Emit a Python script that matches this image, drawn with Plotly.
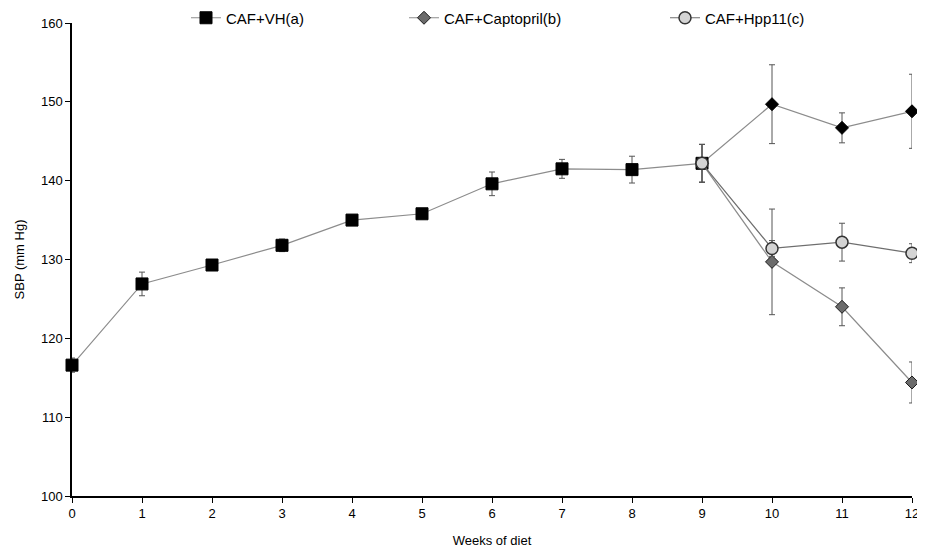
import plotly.graph_objects as go

weeks = list(range(13))
vh_weeks = weeks
vh_sbp = [116.6, 126.9, 129.3, 131.8, 135.0, 135.8, 139.6, 141.5, 141.4, 142.2, 149.7, 146.7, 148.8]
vh_err = [0.9, 1.5, 0.5, 0.8, 0.4, 0.4, 1.5, 1.2, 1.7, 2.4, 5.0, 1.9, 4.7]
vh_split = 10  # weeks 0-9 shown as squares, 10-12 as diamonds

cap_weeks = [9, 10, 11, 12]
cap_sbp = [142.2, 129.7, 124.0, 114.4]
cap_err = [2.4, 6.7, 2.4, 2.6]

hpp_weeks = [9, 10, 11, 12]
hpp_sbp = [142.2, 131.4, 132.2, 130.8]
hpp_err = [2.4, 1.0, 2.4, 1.2]

font = "Liberation Sans, Arial, sans-serif"
line_col = "#8c8c8c"
err_col = "#555555"

W, H = 917, 540  # page adds an 8px body margin

fig = go.Figure()

# VH line continuing after week 9
fig.add_trace(go.Scatter(
    x=vh_weeks[vh_split - 1:], y=vh_sbp[vh_split - 1:], mode="lines",
    line=dict(color=line_col, width=1.2), showlegend=False, hoverinfo="skip",
    cliponaxis=False,
))
fig.add_trace(go.Scatter(
    x=vh_weeks[vh_split:], y=vh_sbp[vh_split:], mode="markers",
    marker=dict(symbol="diamond", size=10, color="#000000",
                line=dict(color="#000000", width=1)),
    error_y=dict(type="data", array=vh_err[vh_split:], color=err_col, thickness=1, width=3),
    showlegend=False, cliponaxis=False,
))
fig.add_trace(go.Scatter(
    x=vh_weeks[:vh_split], y=vh_sbp[:vh_split], name="CAF+VH(a)", mode="lines+markers",
    line=dict(color=line_col, width=1.2),
    marker=dict(symbol="square", size=12, color="#000000",
                line=dict(color="#000000", width=1)),
    error_y=dict(type="data", array=vh_err[:vh_split], color=err_col, thickness=1, width=3),
    cliponaxis=False, legend="legend",
))
fig.add_trace(go.Scatter(
    x=cap_weeks, y=cap_sbp, name="CAF+Captopril(b)", mode="lines+markers",
    line=dict(color=line_col, width=1.2),
    marker=dict(symbol="diamond", size=10, color="#6b6b6b",
                line=dict(color="#1a1a1a", width=1)),
    error_y=dict(type="data", array=cap_err, color=err_col, thickness=1, width=3),
    cliponaxis=False, legend="legend2",
))
fig.add_trace(go.Scatter(
    x=hpp_weeks, y=hpp_sbp, name="CAF+Hpp11(c)", mode="lines+markers",
    line=dict(color="#6e6e6e", width=1.2),
    marker=dict(symbol="circle", size=12, color="#d4d4d4",
                line=dict(color="#333333", width=1.5)),
    error_y=dict(type="data", array=hpp_err, color=err_col, thickness=1, width=3),
    cliponaxis=False, legend="legend3",
))

leg_common = dict(orientation="h", yref="container", xref="container", y=1 - 10 / H,
                  yanchor="middle", xanchor="left", bgcolor="rgba(0,0,0,0)",
                  font=dict(family=font, size=15, color="#000000"))

fig.update_layout(
    width=W, height=H,
    paper_bgcolor="white", plot_bgcolor="white",
    margin=dict(l=64, r=13, t=15, b=52, autoexpand=False),
    font=dict(family=font, size=13, color="#000000"),
    legend=dict(x=178 / W, **leg_common),
    legend2=dict(x=396 / W, **leg_common),
    legend3=dict(x=657 / W, **leg_common),
    xaxis=dict(range=[0, 12], tickmode="array", tickvals=weeks,
               ticks="outside", ticklen=5, tickcolor="#000000",
               showline=True, linecolor="#000000", linewidth=1.5,
               showgrid=False, zeroline=False,
               tickfont=dict(family=font, size=13),
               title=dict(text="Weeks of diet", font=dict(family=font, size=13), standoff=17)),
    yaxis=dict(range=[100, 160], tickvals=[100, 110, 120, 130, 140, 150, 160],
               ticks="outside", ticklen=5, tickcolor="#000000",
               showline=True, linecolor="#000000", linewidth=1.5,
               showgrid=False, zeroline=False,
               tickfont=dict(family=font, size=13),
               title=dict(text="SBP (mm Hg)", font=dict(family=font, size=13), standoff=13)),
)

fig.write_html("out.html")
